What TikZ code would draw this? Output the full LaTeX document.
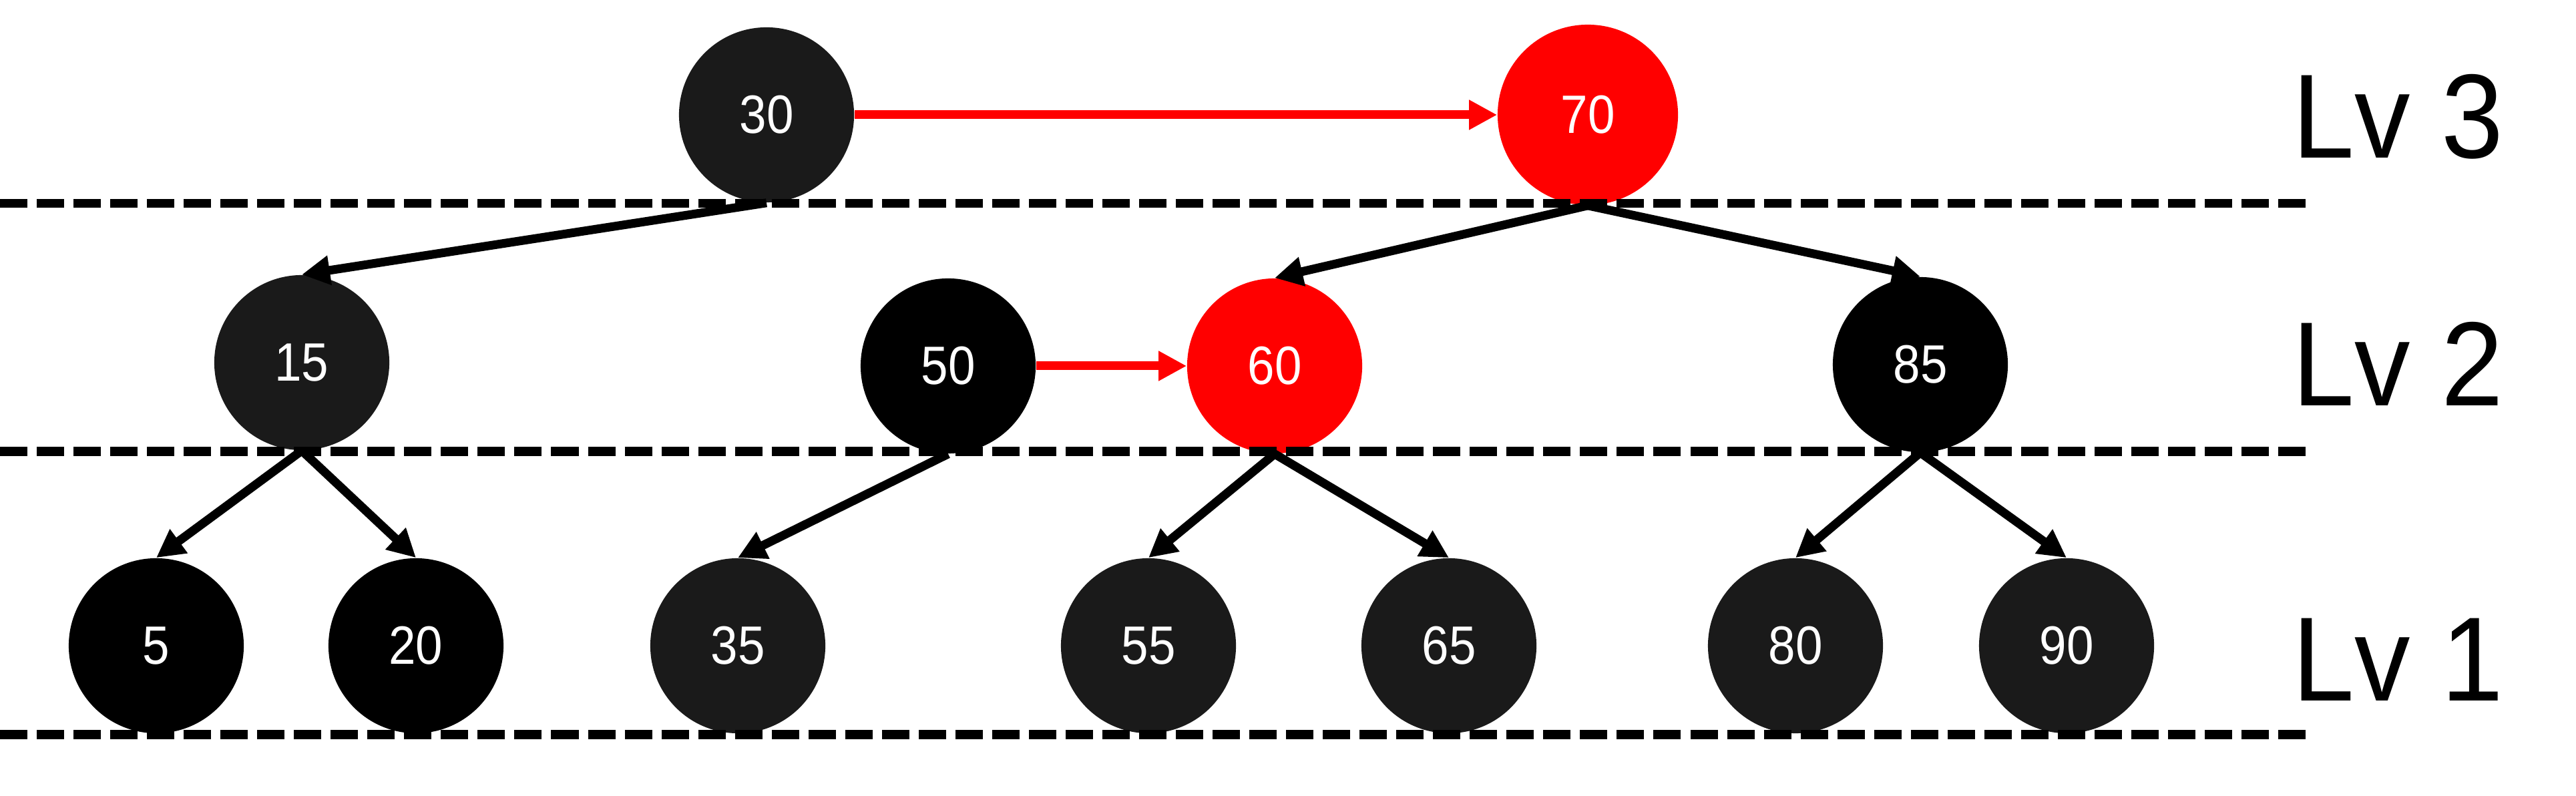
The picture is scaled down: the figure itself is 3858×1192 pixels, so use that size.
\documentclass[tikz,border=0pt]{standalone}
\usepackage{fontspec}
\setmainfont{Liberation Sans}
\newfontfamily\lvfont[FakeStretch=0.93]{Liberation Sans}
\newfontfamily\numfont[FakeStretch=0.9]{Liberation Sans}
\usetikzlibrary{arrows.meta}
\definecolor{nodegray}{HTML}{1A1A1A}
\definecolor{rbred}{HTML}{FF0000}
\begin{document}
\begin{tikzpicture}[x=0.01cm,y=-0.01cm,
  rbnode/.style={circle,minimum size=2.62cm,inner sep=0pt,text=white,font=\numfont\fontsize{23}{23}\selectfont},
  blknode/.style={rbnode,fill=black},
  grynode/.style={rbnode,fill=nodegray},
  rednode/.style={rbnode,fill=rbred},
  lvline/.style={line width=1.3mm,dash pattern=on 4.1mm off 1.4mm},
  tedge/.style={line width=1.3mm,-{Triangle[length=4.2mm,width=4.2mm]}},
  redge/.style={tedge,draw=rbred},
  lvlabel/.style={anchor=base west,inner sep=0pt,font=\lvfont\fontsize{51}{51}\selectfont}]
\useasboundingbox (0,0) rectangle (3858,1192);
% nodes
\node[grynode] (n30) at (1148,172) {30};
\node[rednode,minimum size=2.7cm] (n70) at (2378,172) {70};
\node[grynode] (n15) at (452,543) {15};
\node[blknode] (n50) at (1420,548) {50};
\node[rednode] (n60) at (1909,548) {60};
\node[blknode] (n85) at (2876,546) {85};
\node[blknode] (n5) at (234,967) {5};
\node[blknode] (n20) at (623,967) {20};
\node[grynode] (n35) at (1105,967) {35};
\node[grynode] (n55) at (1720,967) {55};
\node[grynode] (n65) at (2170,967) {65};
\node[grynode] (n80) at (2689,967) {80};
\node[grynode] (n90) at (3095,967) {90};
% level lines
\draw[lvline] (0,305) -- (3454,305);
\draw[lvline] (0,676) -- (3454,676);
\draw[lvline] (0,1100) -- (3454,1100);
% labels
\node[lvlabel] (lv3) at (3433,237) {Lv 3};
\node[lvlabel] (lv2) at (3433,608) {Lv 2};
\node[lvlabel] (lv1) at (3433,1049) {Lv 1};
% edges
\draw[redge] (n30.east) -- (n70.west);
\draw[redge] (n50.east) -- (n60.west);
\draw[tedge] (n30.south) -- (n15.north);
\draw[tedge] (n70.south) -- (n60.north);
\draw[tedge] (n70.south) -- (n85.north);
\draw[tedge] (n15.south) -- (n5.north);
\draw[tedge] (n15.south) -- (n20.north);
\draw[tedge] (n50.south) -- (n35.north);
\draw[tedge] (n60.south) -- (n55.north);
\draw[tedge] (n60.south) -- (n65.north);
\draw[tedge] (n85.south) -- (n80.north);
\draw[tedge] (n85.south) -- (n90.north);
\end{tikzpicture}
\end{document}
